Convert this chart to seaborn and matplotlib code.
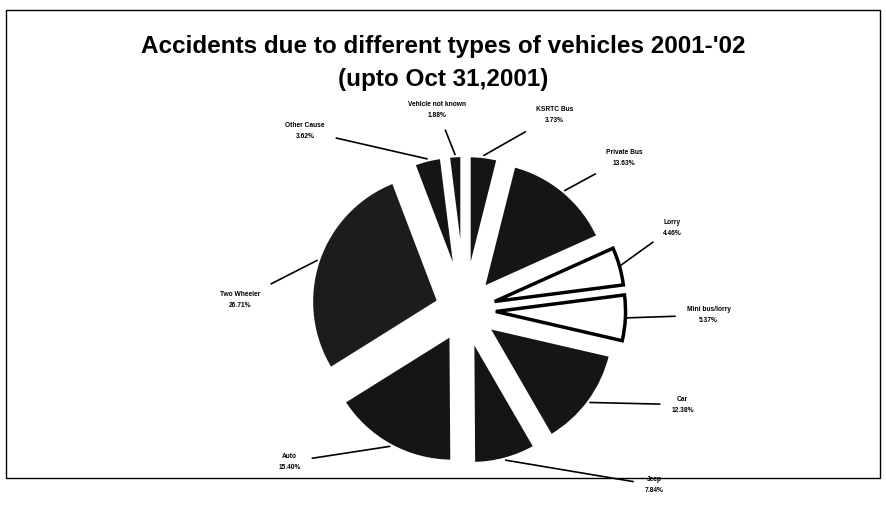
import matplotlib
matplotlib.use("Agg")
import matplotlib.pyplot as plt
import seaborn as sns
import numpy as np
from matplotlib.patches import Rectangle

sns.set_theme(style="white")
plt.rcParams['font.family'] = ['Liberation Sans', 'DejaVu Sans']
plt.rcParams['text.color'] = 'black'

# data (clockwise from 12 o'clock)
categories = ['KSRTC Bus', 'Private Bus', 'Lorry', 'Mini bus/lorry', 'Car',
              'Jeep', 'Auto', 'Two Wheeler', 'Other Cause', 'Vehicle not known']
shares = [3.73, 13.63, 4.46, 5.37, 12.38, 7.84, 15.40, 26.71, 3.62, 1.88]
share_labels = ['3.73%', '13.63%', '4.46%', '5.37%', '12.38%',
                '7.84%', '15.40%', '26.71%', '3.62%', '1.88%']

# styling
face = ['#151515', '#151515', 'white', 'white', '#151515',
        '#151515', '#151515', '#1c1c1c', '#151515', '#151515']
edge = ['white', 'white', 'black', 'black', 'white',
        'white', 'white', 'white', 'white', 'white']
edge_w = [4, 4, 2.5, 2.5, 4, 4, 4, 4, 4, 4]
explode = [0.2, 0.2, 0.24, 0.24, 0.2, 0.2, 0.2, 0.2, 0.2, 0.2]
# label anchor positions (data units of the pie axes)
label_pos = [(0.69, 1.50), (1.23, 1.17), (1.60, 0.63), (1.88, -0.04), (1.68, -0.73),
             (1.46, -1.35), (-1.35, -1.17), (-1.73, 0.08), (-1.23, 1.38), (-0.21, 1.54)]

fig = plt.figure(figsize=(8.86, 5.14), dpi=100)
fig.patches.append(Rectangle((0.007, 0.07), 0.986, 0.91, transform=fig.transFigure,
                             fill=False, edgecolor='black', linewidth=1.0))

fig.text(0.5, 0.91, "Accidents due to different types of vehicles 2001-'02",
         ha='center', va='center', fontsize=17.5, fontweight='bold')
fig.text(0.5, 0.845, "(upto Oct 31,2001)",
         ha='center', va='center', fontsize=17.5, fontweight='bold')

ax = fig.add_axes([0.299, 0.008, 0.451, 0.778])
wedges, _ = ax.pie(shares, startangle=90, counterclock=False, explode=explode,
                   colors=face)
for w, ec, lw in zip(wedges, edge, edge_w):
    w.set_edgecolor(ec)
    w.set_linewidth(lw)
    w.set_joinstyle('miter')
ax.set_xlim(-1.54, 1.54)
ax.set_ylim(-1.54, 1.54)
ax.set_aspect('equal')
ax.axis('off')

for w, name, lab, pos, ex in zip(wedges, categories, share_labels, label_pos, explode):
    mid = np.deg2rad((w.theta1 + w.theta2) / 2)
    r = 1.0 + ex
    xy = (r * np.cos(mid), r * np.sin(mid))
    ax.annotate(name + "\n" + lab, xy=xy, xytext=pos, ha='center', va='center',
                fontsize=4.8, fontweight='bold', linespacing=1.8,
                arrowprops=dict(arrowstyle='-', color='black', lw=1.2,
                                shrinkA=6, shrinkB=0),
                annotation_clip=False)

fig.savefig("out.png", dpi=100)
